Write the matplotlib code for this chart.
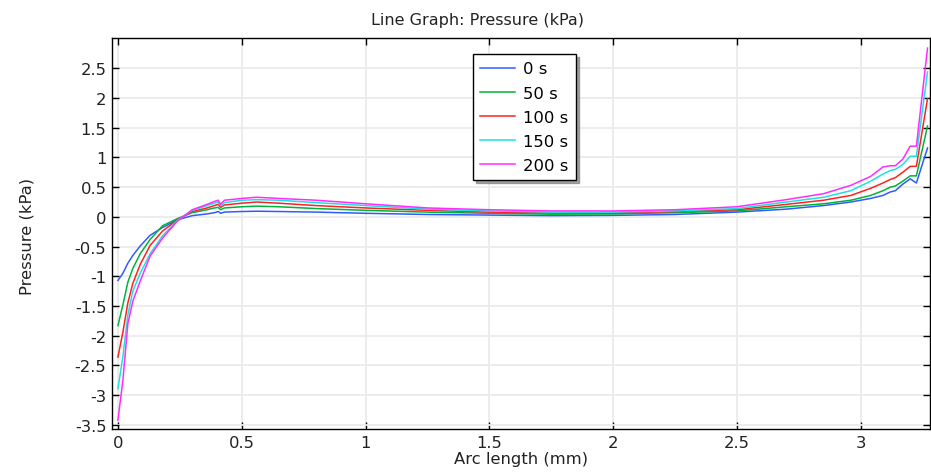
import matplotlib
matplotlib.use("Agg")
import matplotlib.pyplot as plt
import numpy as np

plt.rcParams['font.family'] = ['DejaVu Sans']

# Arc length (mm)
arc = [0.0, 0.02, 0.04, 0.06, 0.09, 0.13, 0.18, 0.24, 0.30, 0.36, 0.39, 0.405,
       0.415, 0.43, 0.5, 0.56, 0.65, 0.8, 1.0, 1.25, 1.5, 1.75, 2.0, 2.25, 2.5,
       2.7, 2.85, 2.96, 3.04, 3.09, 3.12, 3.14, 3.17, 3.20, 3.225, 3.27]

p_0s = [-1.07, -0.95, -0.78, -0.65, -0.49, -0.31, -0.18, -0.05, 0.02, 0.05, 0.07, 0.09,
        0.06, 0.08, 0.09, 0.095, 0.09, 0.08, 0.06, 0.04, 0.03, 0.02, 0.025, 0.04, 0.08,
        0.13, 0.19, 0.25, 0.31, 0.36, 0.42, 0.44, 0.55, 0.64, 0.57, 1.16]
p_50s = [-1.83, -1.48, -1.10, -0.87, -0.62, -0.38, -0.15, -0.03, 0.07, 0.12, 0.15, 0.16,
         0.12, 0.15, 0.17, 0.18, 0.17, 0.14, 0.11, 0.08, 0.06, 0.045, 0.05, 0.07, 0.10,
         0.17, 0.22, 0.28, 0.36, 0.44, 0.50, 0.52, 0.60, 0.69, 0.69, 1.53]
p_100s = [-2.36, -1.94, -1.45, -1.12, -0.80, -0.48, -0.24, -0.05, 0.09, 0.15, 0.19, 0.21,
          0.16, 0.20, 0.23, 0.25, 0.23, 0.19, 0.15, 0.11, 0.08, 0.065, 0.065, 0.09, 0.12,
          0.21, 0.28, 0.36, 0.48, 0.57, 0.63, 0.66, 0.75, 0.85, 0.85, 1.99]
p_150s = [-2.89, -2.35, -1.65, -1.25, -0.95, -0.62, -0.32, -0.06, 0.11, 0.19, 0.23, 0.25,
          0.19, 0.24, 0.28, 0.29, 0.28, 0.24, 0.19, 0.13, 0.10, 0.08, 0.08, 0.10, 0.14,
          0.25, 0.33, 0.44, 0.60, 0.72, 0.78, 0.80, 0.88, 1.02, 1.02, 2.44]
p_200s = [-3.42, -2.75, -1.80, -1.42, -1.08, -0.66, -0.36, -0.07, 0.12, 0.21, 0.26, 0.28,
          0.21, 0.28, 0.31, 0.33, 0.31, 0.28, 0.22, 0.15, 0.12, 0.10, 0.10, 0.12, 0.17,
          0.29, 0.39, 0.53, 0.68, 0.84, 0.86, 0.86, 0.97, 1.19, 1.19, 2.84]

labels = ["0 s", "50 s", "100 s", "150 s", "200 s"]
series = [p_0s, p_50s, p_100s, p_150s, p_200s]
colors = ["#2f5cff", "#00b33c", "#ff2222", "#1fe0e0", "#ff2cff"]

xticks = [0, 0.5, 1, 1.5, 2, 2.5, 3]
xticklabels = ["0", "0.5", "1", "1.5", "2", "2.5", "3"]
yticks = [-3.5, -3, -2.5, -2, -1.5, -1, -0.5, 0, 0.5, 1, 1.5, 2, 2.5]
yticklabels = ["-3.5", "-3", "-2.5", "-2", "-1.5", "-1", "-0.5", "0", "0.5", "1", "1.5", "2", "2.5"]

W, H = 931, 477
fig = plt.figure(figsize=(W / 100, H / 100), dpi=100)
ax = fig.add_axes([112 / W, 1 - 430 / H, (930 - 112) / W, (430 - 39) / H])

for y, lab, c in zip(series, labels, colors):
    ax.plot(arc, y, color=c, lw=1.1, label=lab)

ax.set_xlim(-0.024, 3.28)
ax.set_ylim(-3.57, 3.01)
ax.set_xticks(xticks)
ax.set_xticklabels(xticklabels)
ax.set_yticks(yticks)
ax.set_yticklabels(yticklabels)
ax.grid(True, color="#ebebeb", lw=1.3)
ax.set_axisbelow(True)
ax.tick_params(direction="in", length=5, width=1, top=True, right=True,
               labelsize=11.8, colors="black", labelcolor="#222222", pad=4)
for s in ax.spines.values():
    s.set_color("black")
    s.set_linewidth(1.0)

ax.set_xlabel("Arc length (mm)", fontsize=11.8, labelpad=1, color="#222222")
fig.text(27 / W, 1 - 236 / H, "Pressure (kPa)", rotation=90, fontsize=11.8,
         ha="center", va="center", color="#222222")
fig.text(477 / W, 1 - 20 / H, "Line Graph: Pressure (kPa)", fontsize=11.5,
         ha="center", va="center", color="#222222")

leg = ax.legend(loc="upper left", bbox_to_anchor=(473 / W, 1 - 55 / H),
                bbox_transform=fig.transFigure, frameon=True, fancybox=False,
                shadow={"color": "#888888", "alpha": 0.8}, fontsize=11.8,
                handlelength=2.1, handletextpad=0.5,
                labelspacing=0.56, borderpad=0.45, borderaxespad=0)
leg.get_frame().set_edgecolor("black")
leg.get_frame().set_linewidth(1.0)

fig.savefig("out.png", dpi=100)
